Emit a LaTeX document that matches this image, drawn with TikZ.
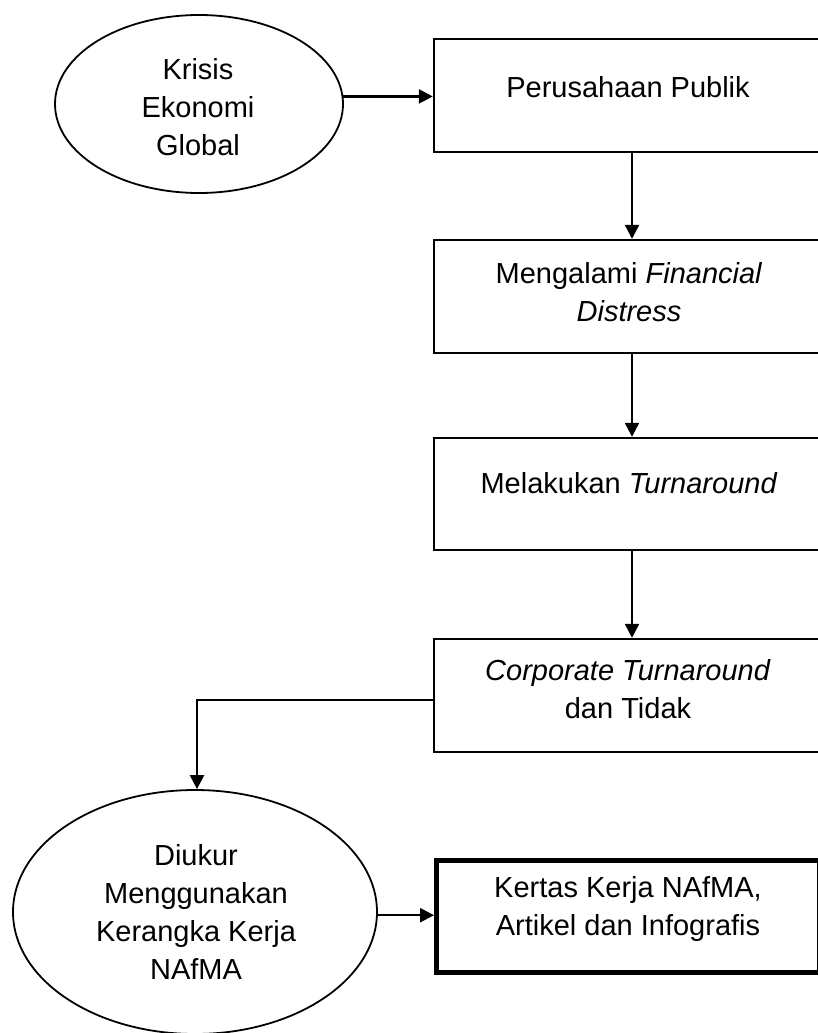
\documentclass[tikz,border=0pt]{standalone}
\usepackage{fontspec}
\setmainfont{Liberation Sans}
\usetikzlibrary{arrows.meta,calc,shapes.geometric}
\begin{document}
\begin{tikzpicture}[x=1pt,y=-1pt,
  boxnode/.style={draw,line width=2.4pt,rectangle,minimum width=388pt,inner sep=0pt},
  ellnode/.style={draw,line width=1.8pt,ellipse,inner sep=0pt},
  txt/.style={align=center,font=\fontsize{29}{38}\selectfont,inner sep=0pt},
  conn/.style={line width=2.4pt,-{Triangle[length=14pt,width=14pt]}}
]
\useasboundingbox (0,0) rectangle (818,1033);
\clip (0,0) rectangle (818,1033);
% ellipses
\node[ellnode,minimum width=288pt,minimum height=178pt] (e1) at (199,104) {};
\node[txt] (te1) at (198,107) {Krisis\\Ekonomi\\Global};
\node[ellnode,minimum width=364pt,minimum height=244pt] (e2) at (195,912) {};
\node[txt] (te2) at (196,912) {Diukur\\Menggunakan\\Kerangka Kerja\\NAfMA};
% boxes
\node[boxnode,minimum height=113pt] (b1) at (628,95.5) {};
\node[txt] (t1) at (628,87) {Perusahaan Publik};
\node[boxnode,minimum height=113pt] (b2) at (628,296.5) {};
\node[txt] (t2) at (629,292.5) {Mengalami \textit{Financial}\\\textit{Distress}};
\node[boxnode,minimum height=112pt] (b3) at (628,494) {};
\node[txt] (t3) at (629,483) {Melakukan \textit{Turnaround}};
\node[boxnode,minimum height=113pt] (b4) at (628,695.5) {};
\node[txt] (t4) at (628,689) {\textit{Corporate Turnaround}\\dan Tidak};
\node[boxnode,line width=5pt,minimum height=112pt,minimum width=383pt] (b5) at (628,916.5) {};
\node[txt] (t5) at (628,909) {Kertas Kerja NAfMA,\\Artikel dan Infografis};
% connectors
\draw[conn] (e1.3) -- (e1.3 -| b1.west);
\draw[conn] ([xshift=4pt]b1.south) -- ([xshift=4pt]b2.north);
\draw[conn] ([xshift=4pt]b2.south) -- ([xshift=4pt]b3.north);
\draw[conn] ([xshift=4pt]b3.south) -- ([xshift=4pt]b4.north);
\draw[conn] ([yshift=-4.5pt]b4.west) -| ([xshift=2pt]e2.north);
\draw[conn] (e2.-1) -- (e2.-1 -| b5.west);
\end{tikzpicture}
\end{document}
